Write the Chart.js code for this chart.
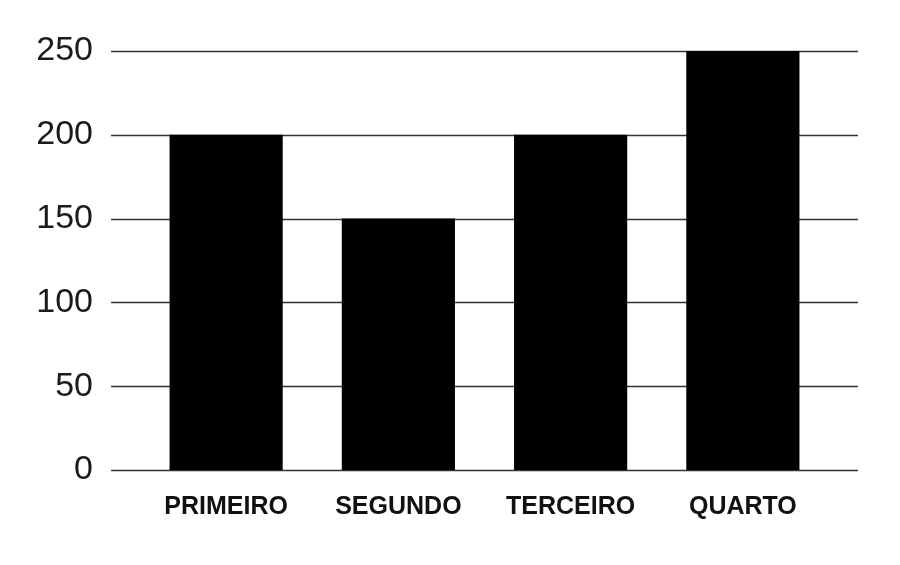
<!DOCTYPE html>
<html>
<head>
<meta charset="utf-8">
<script src="https://cdn.jsdelivr.net/npm/chart.js@4"></script>
<style>
html,body{margin:0;padding:0;background:#fff;}
#wrap{width:900px;height:565px;position:relative;}
</style>
</head>
<body>
<div id="wrap"><canvas id="c" width="900" height="565"></canvas></div>
<script>
const categories = ["PRIMEIRO", "SEGUNDO", "TERCEIRO", "QUARTO"];
const values = [200, 150, 200, 250];
const yTicks = [0, 50, 100, 150, 200, 250];

// horizontal grid lines extend past the category area on both sides
const gridOverhangLeft = 29;
const gridOverhangRight = 29;

const extendedGrid = {
  id: 'extendedGrid',
  beforeDatasetsDraw(chart) {
    const { ctx, chartArea, scales } = chart;
    ctx.save();
    ctx.strokeStyle = '#333';
    ctx.lineWidth = 1.5;
    scales.y.ticks.forEach(t => {
      const y = Math.round(scales.y.getPixelForValue(t.value)) + 0.5;
      ctx.beginPath();
      ctx.moveTo(chartArea.left - gridOverhangLeft, y);
      ctx.lineTo(chartArea.right + gridOverhangRight, y);
      ctx.stroke();
    });
    ctx.restore();
  }
};

new Chart(document.getElementById('c'), {
  type: 'bar',
  data: {
    labels: categories,
    datasets: [{
      data: values,
      backgroundColor: '#000',
      borderWidth: 0,
      barPercentage: 0.657,
      categoryPercentage: 1.0
    }]
  },
  plugins: [extendedGrid],
  options: {
    responsive: false,
    animation: false,
    devicePixelRatio: 1,
    layout: { padding: { left: 0, right: 71, top: 51, bottom: 0 } },
    plugins: { legend: { display: false }, tooltip: { enabled: false } },
    scales: {
      x: {
        grid: { display: false, drawTicks: false },
        border: { display: false },
        ticks: {
          color: '#111',
          font: { family: 'Liberation Sans, Arial, sans-serif', size: 25, weight: 'bold' },
          padding: 22,
          maxRotation: 0
        },
        afterFit: (s) => { s.height = 565 - 470; }
      },
      y: {
        min: 0, max: 250,
        afterBuildTicks: (s) => { s.ticks = yTicks.map(v => ({ value: v })); },
        grid: { display: false, drawTicks: false },
        border: { display: false },
        ticks: {
          color: '#1a1a1a',
          font: { family: 'Liberation Sans, Arial, sans-serif', size: 34 },
          padding: 47
        },
        afterFit: (s) => { s.width = 140; s.paddingTop = 0; s.paddingBottom = 0; }
      }
    }
  }
});
</script>
</body>
</html>
